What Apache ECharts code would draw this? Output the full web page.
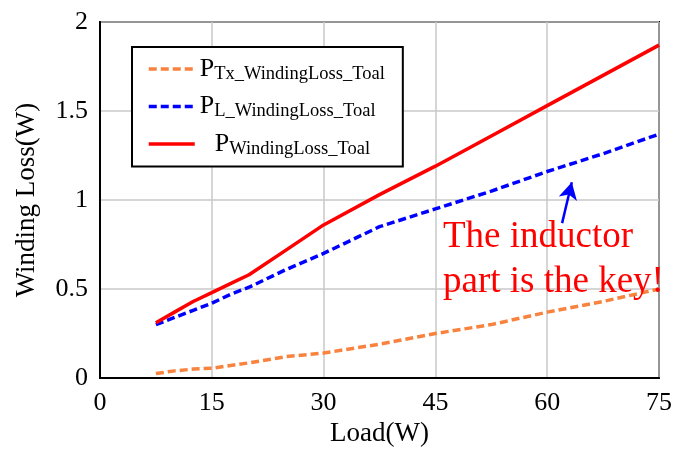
<!DOCTYPE html>
<html>
<head>
<meta charset="utf-8">
<script src="https://cdn.jsdelivr.net/npm/echarts@6/dist/echarts.min.js"></script>
<style>
  html, body { margin: 0; padding: 0; background: #fff; }
  #chart { width: 674px; height: 449px; }
</style>
</head>
<body>
<div id="chart"></div>
<script>
// load points (W) and winding losses (W)
var loads = [7.5, 10, 12.5, 15, 17.5, 20, 25, 30, 37.5, 45, 52.5, 60, 67.5, 75];
var txLoss = [0.025, 0.04, 0.05, 0.055, 0.07, 0.085, 0.12, 0.14, 0.19, 0.25, 0.30, 0.37, 0.43, 0.50];
var lLoss = [0.30, 0.34, 0.38, 0.42, 0.47, 0.51, 0.61, 0.70, 0.85, 0.95, 1.05, 1.16, 1.26, 1.37];
var totalLoss = [0.31, 0.37, 0.43, 0.48, 0.53, 0.58, 0.72, 0.86, 1.03, 1.19, 1.36, 1.53, 1.70, 1.87];
var xTicks = [0, 15, 30, 45, 60, 75];
var yTicks = [0, 0.5, 1, 1.5, 2];
var arrowFrom = [62.0, 0.87];
var arrowTo = [63.3, 1.10];

var serif = "'Liberation Serif', 'Times New Roman', serif";

function pairs(ys) {
  return loads.map(function (x, i) { return [x, ys[i]]; });
}

var chart = echarts.init(document.getElementById('chart'));
var option = {
  animation: false,
  backgroundColor: '#fff',
  grid: {
    left: 100, top: 22, right: 15, bottom: 71,
    outerBoundsMode: 'none', containLabel: false,
    show: true, borderColor: '#000', borderWidth: 2
  },
  xAxis: {
    type: 'value', min: xTicks[0], max: xTicks[xTicks.length - 1], interval: 15,
    name: 'Load(W)', nameLocation: 'middle', nameGap: 40,
    nameTextStyle: { fontFamily: serif, fontSize: 27, color: '#000' },
    axisLine: { show: true, lineStyle: { color: '#000', width: 2 } },
    axisTick: { show: false },
    axisLabel: { fontFamily: serif, fontSize: 26, color: '#000', margin: 12 },
    splitLine: { show: true, lineStyle: { color: '#c8c8c8', width: 1.5 } }
  },
  yAxis: {
    type: 'value', min: yTicks[0], max: yTicks[yTicks.length - 1], interval: 0.5,
    name: 'Winding Loss(W)', nameLocation: 'middle', nameGap: 60,
    nameTextStyle: { fontFamily: serif, fontSize: 27, color: '#000' },
    axisLine: { show: true, lineStyle: { color: '#000', width: 2 } },
    axisTick: { show: false },
    axisLabel: { fontFamily: serif, fontSize: 26, color: '#000', margin: 12 },
    splitLine: { show: true, lineStyle: { color: '#c8c8c8', width: 1.5 } }
  },
  legend: {
    orient: 'vertical', left: 132, top: 47,
    padding: [9, 18, 8, 15],
    itemGap: 10,
    itemWidth: 46, itemHeight: 14,
    borderColor: '#000', borderWidth: 2,
    backgroundColor: '#fff',
    itemStyle: { opacity: 0 },
    lineStyle: { width: 3.5 },
    data: ['tx', 'l', 'total'],
    formatter: function (name) {
      if (name === 'tx') return '{p|P}{s|Tx_WindingLoss_Toal}';
      if (name === 'l') return '{p|P}{s|L_WindingLoss_Toal}';
      return '{q|P}{s|WindingLoss_Toal}';
    },
    textStyle: {
      fontFamily: serif, color: '#000',
      rich: {
        p: { fontFamily: serif, fontSize: 26, color: '#000', lineHeight: 27 },
        q: { fontFamily: serif, fontSize: 26, color: '#000', lineHeight: 27, padding: [0, 0, 0, 15] },
        s: { fontFamily: serif, fontSize: 18.5, color: '#000', padding: [10, 0, 0, 0] }
      }
    }
  },
  graphic: [{
    type: 'text', left: 443, top: 215, z: 100,
    style: {
      text: 'The inductor\npart is the key!',
      font: "37px 'Liberation Serif', 'Times New Roman', serif",
      fill: '#ff0000', lineHeight: 45
    }
  }],
  series: [
    {
      name: 'tx', type: 'line', data: pairs(txLoss), symbol: 'none',
      lineStyle: { color: '#f8833f', width: 3.5, type: [8, 4] },
      itemStyle: { color: '#f8833f' }
    },
    {
      name: 'l', type: 'line', data: pairs(lLoss), symbol: 'none',
      lineStyle: { color: '#0000ff', width: 3.5, type: [8, 4] },
      itemStyle: { color: '#0000ff' },
      markLine: {
        silent: true, symbol: ['none', 'arrow'], symbolSize: [14, 17],
        label: { show: false },
        lineStyle: { color: '#0000ff', width: 2.5, type: 'solid' },
        data: [[{ coord: arrowFrom }, { coord: arrowTo }]]
      }
    },
    {
      name: 'total', type: 'line', data: pairs(totalLoss), symbol: 'none',
      lineStyle: { color: '#ff0000', width: 3.5 },
      itemStyle: { color: '#ff0000' }
    }
  ]
};
chart.setOption(option);
</script>
</body>
</html>
